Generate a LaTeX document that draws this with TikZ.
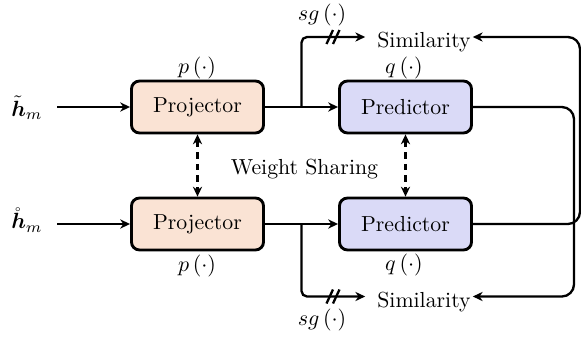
\documentclass[tikz,border=0pt]{standalone}
\usepackage{amsmath,bm}
\usetikzlibrary{arrows.meta,calc}
\definecolor{projfill}{RGB}{250,227,212}
\definecolor{predfill}{RGB}{218,218,247}
\begin{document}
\begin{tikzpicture}[x=0.4545pt,y=-0.4545pt,
  >={Stealth[length=4.5pt,width=4.2pt]}, line width=1.05pt,
  txt/.style={font=\fontsize{9.9pt}{12pt}\selectfont},
  blk/.style={draw, line width=1.3pt, rounded corners=3.6pt, minimum width=60pt, minimum height=23.6pt, inner sep=0pt, txt},
  lbl/.style={inner sep=0pt},
  shared/.style={<->, dash pattern=on 3pt off 2.3pt},
  slashmark/.style={line width=1.05pt}]
\useasboundingbox (0,0) rectangle (581,339);
% blocks
\node[blk, fill=projfill] (proj1) at (197.5,107) {Projector};
\node[blk, fill=predfill] (pred1) at (405.5,107) {Predictor};
\node[blk, fill=projfill] (proj2) at (197.5,224) {Projector};
\node[blk, fill=predfill] (pred2) at (405.5,224) {Predictor};
% inputs
\node[lbl, inner xsep=6pt] (hin1) at (27,108) {$\tilde{\bm{h}}_m$};
\node[lbl, inner xsep=6pt] (hin2) at (27,220) {$\mathring{\bm{h}}_m$};
% labels
\node[lbl] (p1) at (197,68) {$p\left(\cdot\right)$};
\node[lbl] (p2) at (197,266) {$p\left(\cdot\right)$};
\node[lbl] (q1) at (404,68) {$q\left(\cdot\right)$};
\node[lbl] (q2) at (404,265) {$q\left(\cdot\right)$};
\node[lbl] (sg1) at (322,15) {$sg\left(\cdot\right)$};
\node[lbl] (sg2) at (322,320) {$sg\left(\cdot\right)$};
\node[lbl, txt] (ws) at (304.5,169) {Weight Sharing};
\node[lbl, txt, anchor=base] (sim1) at (424,47) {Similarity};
\node[lbl, txt, anchor=base] (sim2) at (424,307.5) {Similarity};
% helper coordinates
\coordinate (b1) at ($(proj1.east)!0.5!(pred1.west)$);
\coordinate (b2) at ($(proj2.east)!0.5!(pred2.west)$);
\coordinate (s1w) at ($(sim1.base west)+(-11,-10)$);
\coordinate (s1e) at ($(sim1.base east)+(1,-10)$);
\coordinate (s2w) at ($(sim2.base west)+(-11,-11)$);
\coordinate (s2e) at ($(sim2.base east)+(1,-11)$);
\coordinate (r1) at (574,0);
\coordinate (r2) at (580,0);
% connectors
\draw[->] (hin1.east |- proj1.west) -- (proj1.west);
\draw[->] (hin2.east |- proj2.west) -- (proj2.west);
\draw[->] (proj1) -- (pred1);
\draw[->] (proj2) -- (pred2);
\draw[->, rounded corners=2.5pt] (b1) |- (s1w);
\draw[->, rounded corners=2.5pt] (b2) |- (s2w);
\draw[->, rounded corners=5.5pt] (pred1.east) -| (r1 |- s2e) -- (s2e);
\draw[->, rounded corners=5.5pt] (pred2.east) -| (r2 |- s1e) -- (s1e);
\draw[shared] (proj1) -- (proj2);
\draw[shared] (pred1) -- (pred2);
% stop-gradient marks
\coordinate (m1) at (333,37);
\coordinate (m2) at (333,296.5);
\draw[slashmark] ($(m1)+(-6.5,7)$) -- ($(m1)+(0,-7)$);
\draw[slashmark] ($(m1)+(0,7)$) -- ($(m1)+(6.5,-7)$);
\draw[slashmark] ($(m2)+(-6.5,7)$) -- ($(m2)+(0,-7)$);
\draw[slashmark] ($(m2)+(0,7)$) -- ($(m2)+(6.5,-7)$);
\end{tikzpicture}
\end{document}
